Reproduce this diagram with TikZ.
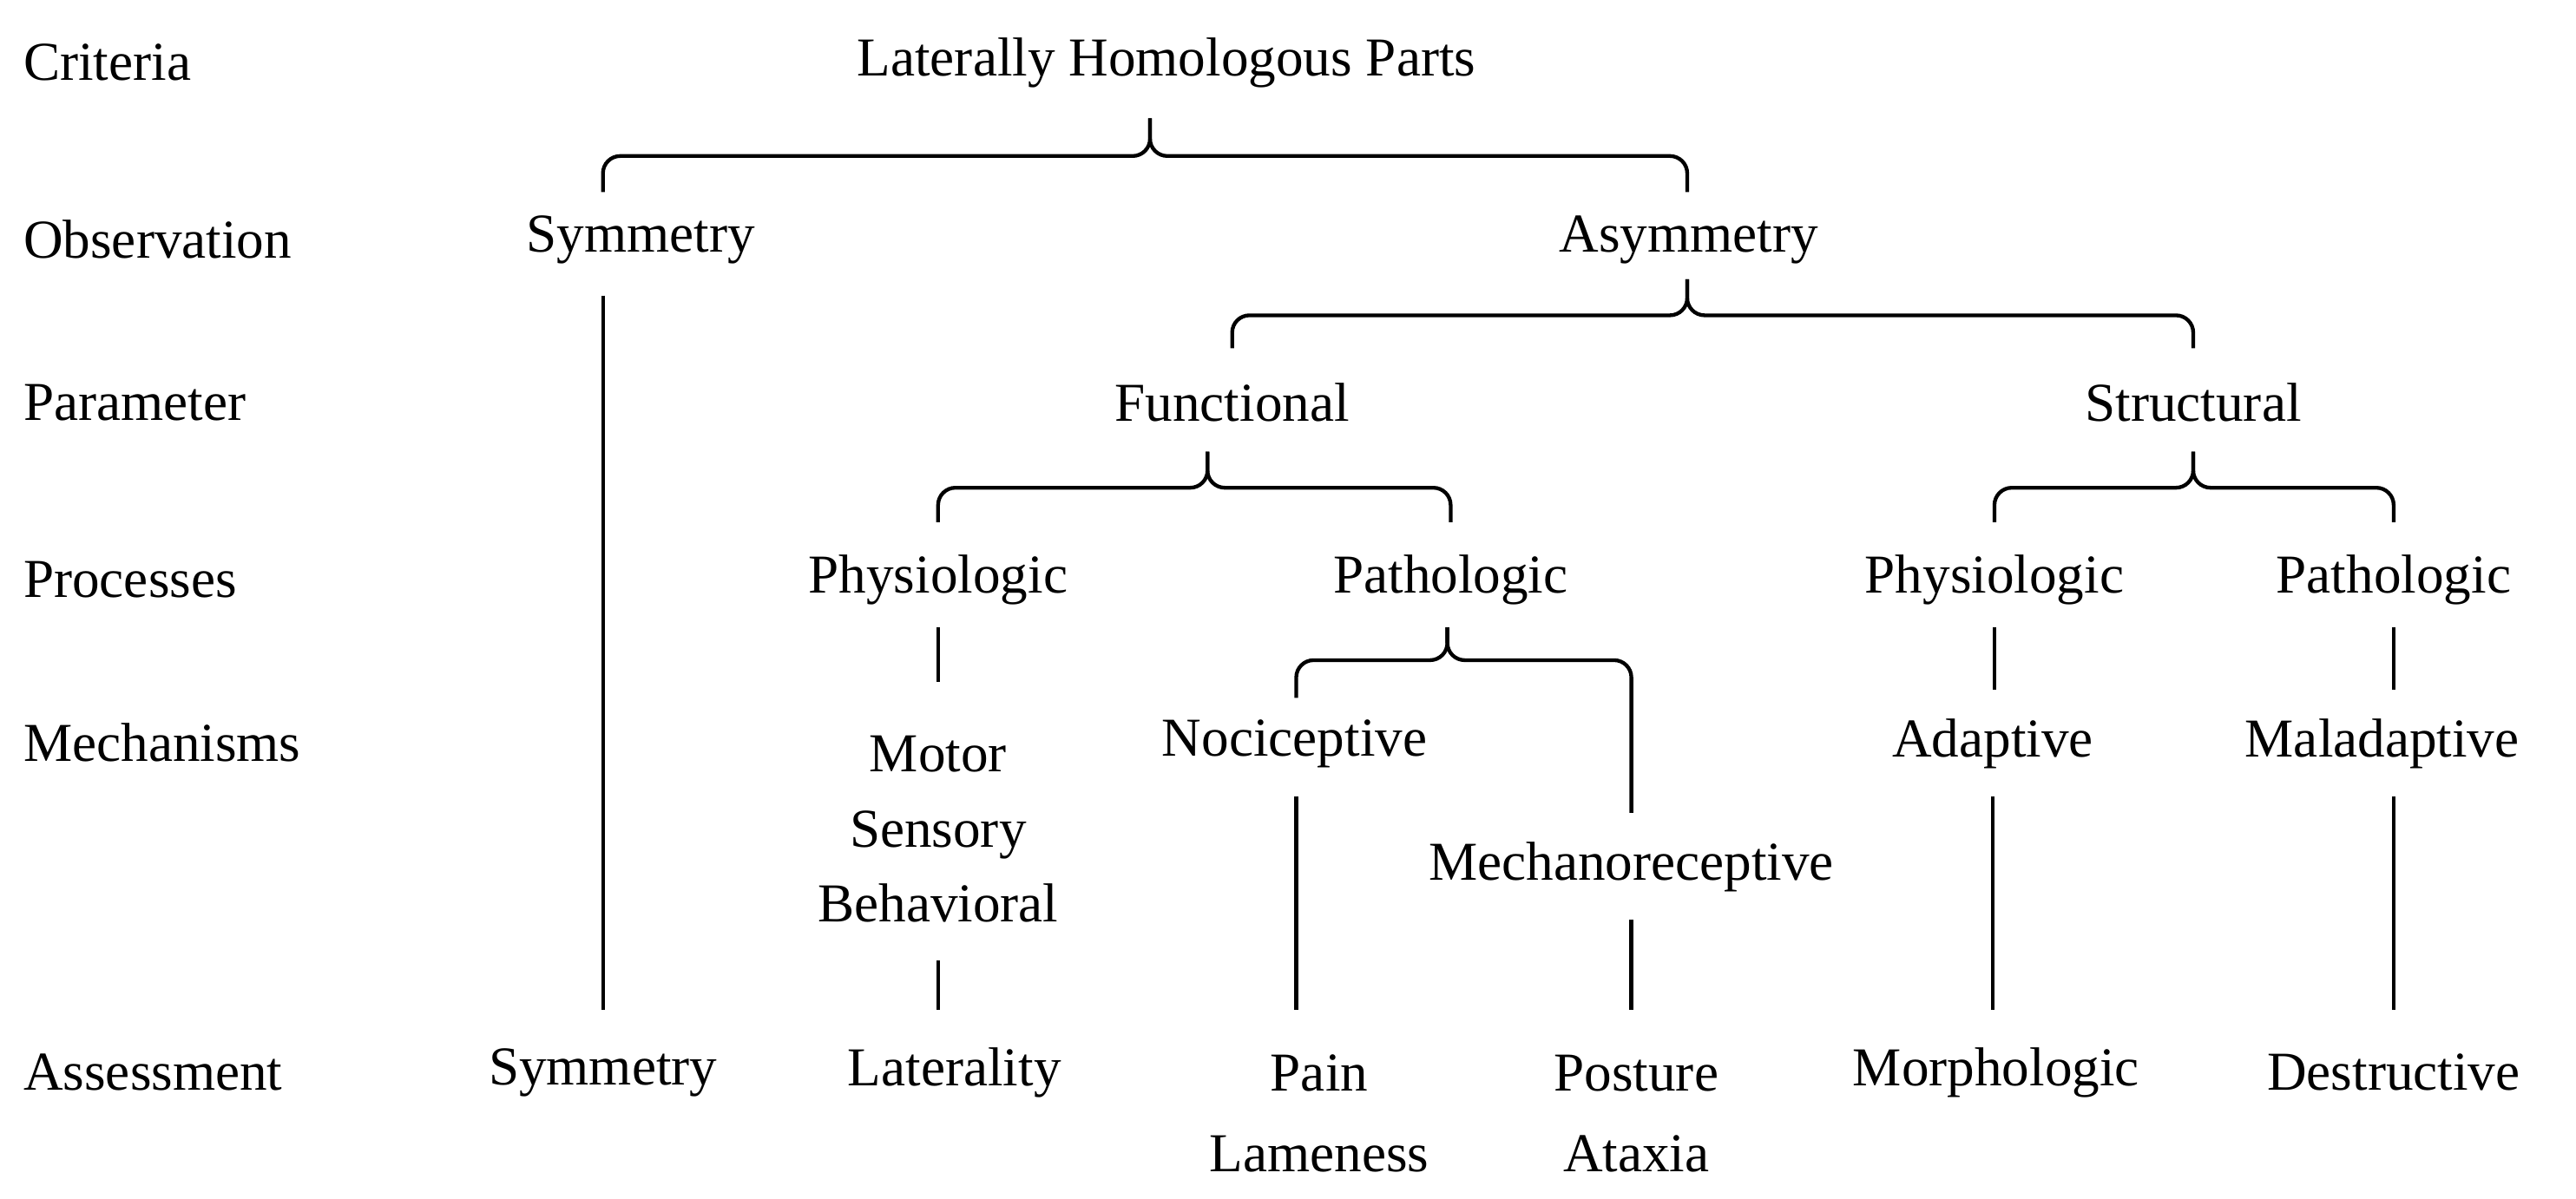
\documentclass[tikz,border=0pt]{standalone}
\usepackage{fontspec}
\setmainfont{Liberation Serif}
\begin{document}
\begin{tikzpicture}[x=0.02cm,y=-0.02cm,
  t/.style={font=\fontsize{19}{24}\selectfont,inner sep=0pt,anchor=center},
  lab/.style={t,anchor=west},
  ln/.style={line width=1.3pt},
  br/.style={ln,rounded corners=6}]
\useasboundingbox (0,0) rectangle (1568,730);
\node[lab] (l1) at (14,38) {Criteria};
\node[lab] (l2) at (14,146) {Observation};
\node[lab] (l3) at (14,245) {Parameter};
\node[lab] (l4) at (14,353) {Processes};
\node[lab] (l5) at (14,452) {Mechanisms};
\node[lab] (l6) at (14,653) {Assessment};
\node[t] (root) at (710,38) {Laterally Homologous Parts};
\node[t] (sym) at (390,146) {Symmetry};
\node[t] (asym) at (1028,146) {Asymmetry};
\node[t] (fun) at (750,245) {Functional};
\node[t] (str) at (1335,245) {Structural};
\node[t] (fph) at (571,353) {Physiologic};
\node[t] (fpa) at (883,353) {Pathologic};
\node[t] (sph) at (1214,353) {Physiologic};
\node[t] (spa) at (1457,353) {Pathologic};
\node[t,align=center] (msb) at (571,505) {Motor\\[2pt]Sensory\\[2pt]Behavioral};
\node[t] (noc) at (788,453) {Nociceptive};
\node[t] (mech) at (993,528) {Mechanoreceptive};
\node[t] (ada) at (1213,453) {Adaptive};
\node[t] (mal) at (1450,453) {Maladaptive};
\node[t] (asy) at (367,653) {Symmetry};
\node[t] (alat) at (581,653) {Laterality};
\node[t,align=center] (apain) at (803,678) {Pain\\[4pt]Lameness};
\node[t,align=center] (apost) at (996,678) {Posture\\[4pt]Ataxia};
\node[t] (amor) at (1215,653) {Morphologic};
\node[t] (ades) at (1457,653) {Destructive};
% braces
\draw[br] (367,117) |- (700,95) -- (700,72);
\draw[br] (1027,117) |- (700,95) -- (700,72);
\draw[br] (750,212) |- (1027,192) -- (1027,170);
\draw[br] (1335,212) |- (1027,192) -- (1027,170);
\draw[br] (571,318) |- (735,297) -- (735,275);
\draw[br] (883,318) |- (735,297) -- (735,275);
\draw[br] (1214,318) |- (1335,297) -- (1335,275);
\draw[br] (1457,318) |- (1335,297) -- (1335,275);
\draw[br] (789,425) |- (881,402) -- (881,382);
\draw[br] (993,495) |- (881,402) -- (881,382);
% lines
\draw[ln] (367,180) -- (367,615);
\draw[ln] (571,382) -- (571,415);
\draw[ln] (1214,382) -- (1214,420);
\draw[ln] (1457,382) -- (1457,420);
\draw[ln] (571,585) -- (571,615);
\draw[ln] (789,485) -- (789,615);
\draw[ln] (993,560) -- (993,615);
\draw[ln] (1213,485) -- (1213,615);
\draw[ln] (1457,485) -- (1457,615);
\end{tikzpicture}
\end{document}
